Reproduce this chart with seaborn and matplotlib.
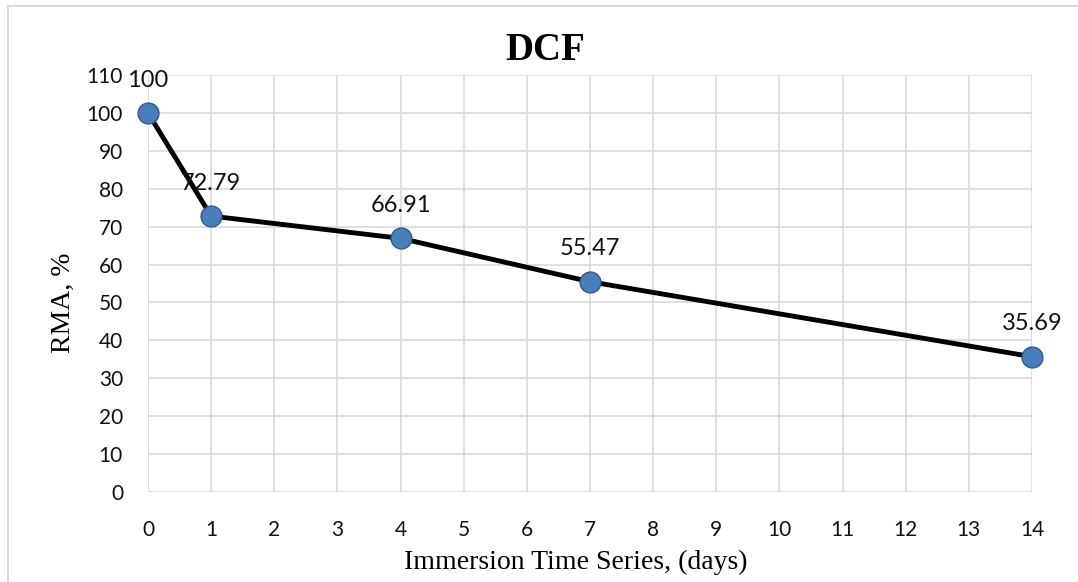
import matplotlib
matplotlib.use("Agg")
import matplotlib.pyplot as plt
import seaborn as sns
import pandas as pd
from matplotlib.lines import Line2D

days = [0, 1, 4, 7, 14]
rma = [100, 72.79, 66.91, 55.47, 35.69]
labels = ["100", "72.79", "66.91", "55.47", "35.69"]
x_ticks = list(range(0, 15))
y_ticks = list(range(0, 111, 10))

sns.set_theme(style="white")
plt.rcParams['font.family'] = ['Lato', 'DejaVu Sans']

df = pd.DataFrame({"days": days, "rma": rma})

W, H = 1078, 582
fig = plt.figure(figsize=(W / 100, H / 100), dpi=100)
ax = fig.add_axes([148 / W, 1 - 492 / H, (1032 - 148) / W, (492 - 75) / H])

sns.lineplot(data=df, x="days", y="rma", ax=ax, color="black", linewidth=3.5,
             marker="o", markersize=15, markerfacecolor="#4A7EBB",
             markeredgecolor="#2F5A8C", markeredgewidth=1.0, zorder=3,
             clip_on=False)

for xv, yv, t in zip(days, rma, labels):
    ax.annotate(t, (xv, yv), xytext=(0, 16), textcoords="offset points",
                ha="center", va="bottom", fontsize=17, color="#111111",
                family=['Lato', 'DejaVu Sans'], zorder=4)

ax.set_xlim(0, 14)
ax.set_ylim(0, 110)
ax.set_xticks(x_ticks)
ax.set_yticks(y_ticks)
ax.grid(True, color="#D9D9D9", linewidth=1.2)
for s in ax.spines.values():
    s.set_visible(False)
ax.tick_params(axis="both", labelsize=15, length=0, colors="#111111")
ax.tick_params(axis="x", pad=20)
ax.tick_params(axis="y", pad=18)
ax.set_xlabel("")
ax.set_ylabel("")

fig.text(576 / W, 1 - 562 / H, "Immersion Time Series, (days)", ha="center", va="center",
         fontsize=20, family="Liberation Serif", color="black")
fig.text(63 / W, 1 - 303 / H, "RMA, %", ha="center", va="center", rotation=90,
         fontsize=20, family="Liberation Serif", color="black")
fig.text(545 / W, 1 - 50 / H, "DCF", ha="center", va="center", fontsize=28,
         fontweight="bold", family="Liberation Serif", color="black")

fig.add_artist(Line2D([8 / W, 1], [1 - 6 / H, 1 - 6 / H], transform=fig.transFigure,
                      color="#D9D9D9", linewidth=1.5))
fig.add_artist(Line2D([8 / W, 8 / W], [0, 1 - 6 / H], transform=fig.transFigure,
                      color="#D9D9D9", linewidth=1.5))

fig.savefig("out.png", dpi=100)
